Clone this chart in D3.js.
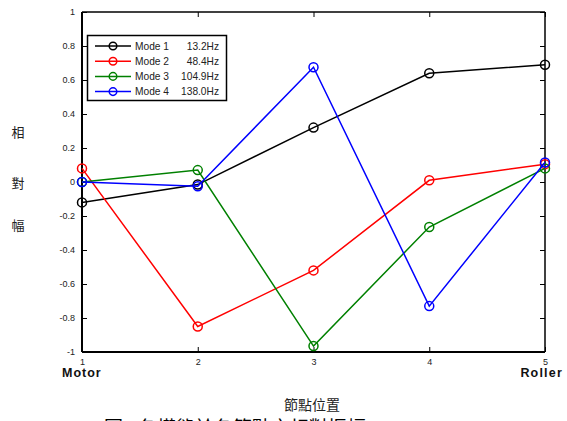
<!DOCTYPE html>
<html>
<head>
<meta charset="utf-8">
<script src="https://cdn.jsdelivr.net/npm/d3@7"></script>
<style>
  html, body { margin: 0; padding: 0; background: #fff; }
  svg { display: block; }
</style>
</head>
<body>
<svg id="chart" width="567" height="421"></svg>
<script>
// Node positions along the shaft and relative amplitude of each mode
const nodes = [1, 2, 3, 4, 5];
const modeNames = ["Mode 1", "Mode 2", "Mode 3", "Mode 4"];
const modeFreqs = ["13.2Hz", "48.4Hz", "104.9Hz", "138.0Hz"];
const modeColors = ["#000000", "#ff0000", "#008000", "#0000ff"];
const mode1 = [-0.12, -0.015, 0.32, 0.64, 0.69];
const mode2 = [0.08, -0.85, -0.52, 0.01, 0.105];
const mode3 = [0.0, 0.07, -0.965, -0.265, 0.08];
const mode4 = [0.0, -0.025, 0.675, -0.73, 0.115];
const yTicks = [-1, -0.8, -0.6, -0.4, -0.2, 0, 0.2, 0.4, 0.6, 0.8, 1];
const yTickLabels = ["-1", "-0.8", "-0.6", "-0.4", "-0.2", "0", "0.2", "0.4", "0.6", "0.8", "1"];
const xTickLabels = ["1", "2", "3", "4", "5"];
const endLabels = ["Motor", "Roller"];
const yTitle = ["相", "對", "幅"];
const xTitle = "節點位置";
const caption = "圖8  各模態於各節點之相對振幅";

const series = [mode1, mode2, mode3, mode4];

const svg = d3.select("#chart");
const plotL = 82, plotR = 545, plotT = 12, plotB = 352;

const x = d3.scaleLinear().domain([1, 5]).range([plotL, plotR]);
const y = d3.scaleLinear().domain([-1, 1]).range([plotB, plotT]);

const tickFont = "Liberation Sans, Arial, sans-serif";

// Axes with inward ticks, as in a boxed plot
const yAxisL = d3.axisLeft(y).tickValues(yTicks).tickSize(-5).tickPadding(7)
  .tickFormat((d, i) => yTickLabels[i]);
const yAxisR = d3.axisRight(y).tickValues(yTicks).tickSize(-5).tickFormat("");
const xAxisB = d3.axisBottom(x).tickValues(nodes).tickSize(-5).tickPadding(7)
  .tickFormat((d, i) => xTickLabels[i]);
const xAxisT = d3.axisTop(x).tickValues(nodes).tickSize(-5).tickFormat("");

function styleAxis(g, width) {
  g.select(".domain").attr("stroke", "#000").attr("stroke-width", width);
  g.selectAll(".tick line").attr("stroke", "#000").attr("stroke-width", 1);
  g.selectAll(".tick text").attr("font-family", tickFont).attr("font-size", 9).attr("fill", "#222");
}

svg.append("g").attr("transform", `translate(${plotR},0)`).call(yAxisR)
  .call(g => { styleAxis(g, 1.5); g.select(".domain").attr("d", `M0,${plotT}V${plotB}`); });
svg.append("g").attr("transform", `translate(0,${plotT})`).call(xAxisT)
  .call(g => { styleAxis(g, 1.5); g.select(".domain").attr("d", `M${plotL},0H${plotR}`); });
svg.append("g").attr("transform", `translate(${plotL},0)`).call(yAxisL)
  .call(g => { styleAxis(g, 2); g.select(".domain").attr("d", `M0,${plotT}V${plotB}`); });
svg.append("g").attr("transform", `translate(0,${plotB})`).call(xAxisB)
  .call(g => { styleAxis(g, 2); g.select(".domain").attr("d", `M${plotL},0H${plotR}`); });

// Mode shape lines and circle markers
const line = d3.line().x((d, i) => x(nodes[i])).y(d => y(d));
series.forEach((vals, k) => {
  const g = svg.append("g");
  g.append("path").datum(vals).attr("d", line)
    .attr("fill", "none").attr("stroke", modeColors[k]).attr("stroke-width", 1.5);
  g.selectAll("circle").data(vals).join("circle")
    .attr("cx", (d, i) => x(nodes[i])).attr("cy", d => y(d)).attr("r", 4.5)
    .attr("fill", "none").attr("stroke", modeColors[k]).attr("stroke-width", 1.5);
});

// Legend
const lg = svg.append("g");
lg.append("rect").attr("x", 87.5).attr("y", 35.5).attr("width", 139).attr("height", 65)
  .attr("fill", "#fff").attr("stroke", "#000").attr("stroke-width", 1.5);
modeNames.forEach((name, k) => {
  const cy = 46 + k * 15.2;
  lg.append("line").attr("x1", 95).attr("x2", 131).attr("y1", cy).attr("y2", cy)
    .attr("stroke", modeColors[k]).attr("stroke-width", 1.5);
  lg.append("circle").attr("cx", 113).attr("cy", cy).attr("r", 3.8)
    .attr("fill", "none").attr("stroke", modeColors[k]).attr("stroke-width", 1.5);
  lg.append("text").attr("x", 135).attr("y", cy + 3.6).text(name)
    .attr("font-family", tickFont).attr("font-size", 10.2).attr("fill", "#222");
  lg.append("text").attr("x", 219).attr("y", cy + 3.6).attr("text-anchor", "end").text(modeFreqs[k])
    .attr("font-family", tickFont).attr("font-size", 10.2).attr("fill", "#222");
});

// End labels under the first and last node
svg.append("text").attr("x", 62).attr("y", 377).text(endLabels[0])
  .attr("font-family", tickFont).attr("font-weight", "bold").attr("font-size", 12.5)
  .attr("letter-spacing", 1).attr("fill", "#111");
svg.append("text").attr("x", 563).attr("y", 377).attr("text-anchor", "end").text(endLabels[1])
  .attr("font-family", tickFont).attr("font-weight", "bold").attr("font-size", 12.5)
  .attr("letter-spacing", 1.2).attr("fill", "#111");

// Vertical axis title, one character per row
const cjk = "Noto Sans CJK TC, Noto Sans CJK SC, sans-serif";
const yTitleY = [137, 188, 230];
yTitle.forEach((ch, i) => {
  svg.append("text").attr("x", 18).attr("y", yTitleY[i]).attr("text-anchor", "middle").text(ch)
    .attr("font-family", cjk).attr("font-size", 13).attr("fill", "#222");
});

// Horizontal axis title
svg.append("text").attr("x", 312).attr("y", 410).attr("text-anchor", "middle").text(xTitle)
  .attr("font-family", cjk).attr("font-size", 14).attr("fill", "#222");

// Figure caption
svg.append("text").attr("x", 104).attr("y", 435).text(caption)
  .attr("font-family", cjk).attr("font-size", 19).attr("fill", "#000");
</script>
</body>
</html>
